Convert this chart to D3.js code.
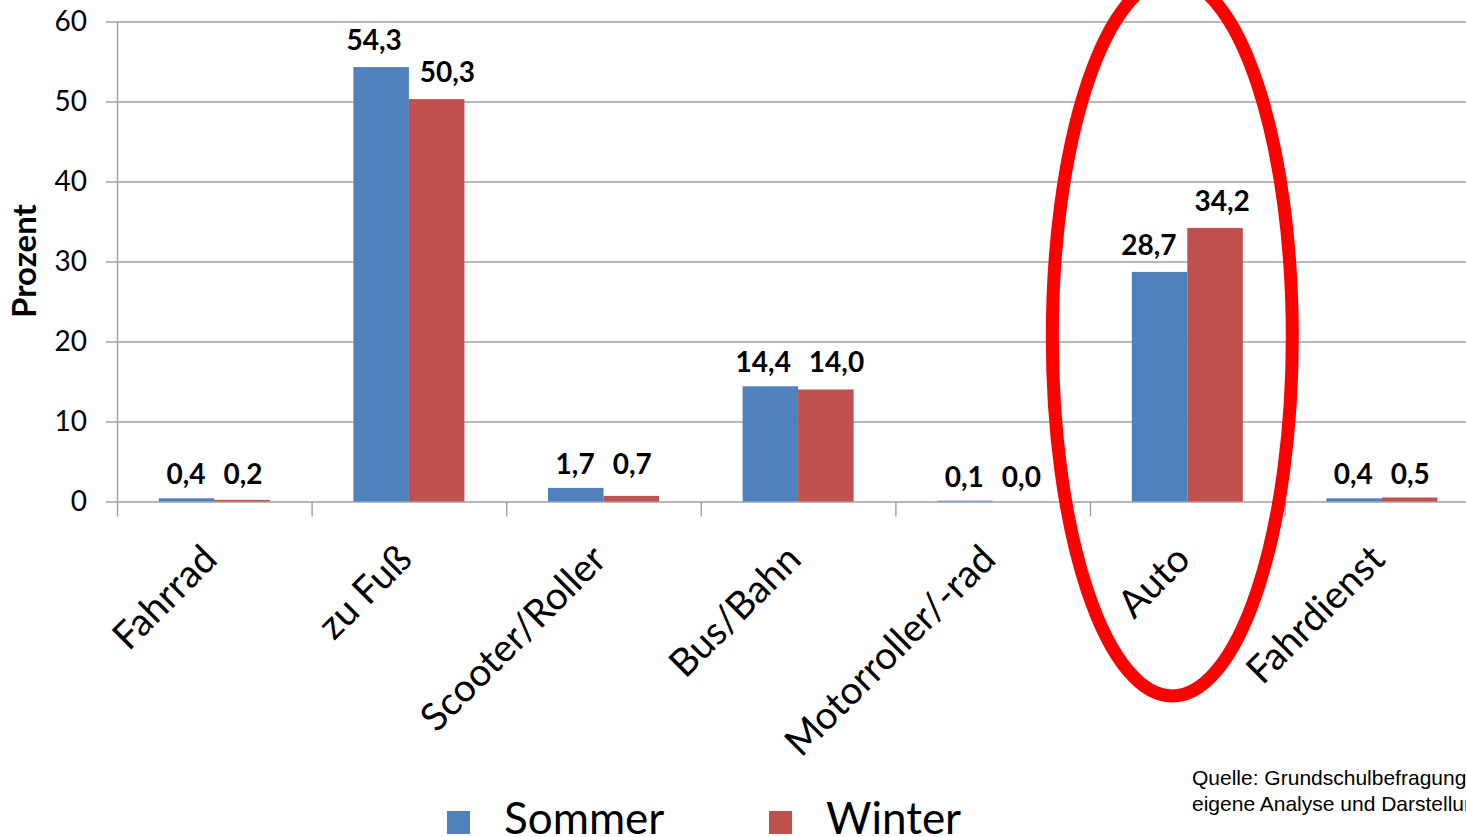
<!DOCTYPE html>
<html>
<head>
<meta charset="utf-8">
<script src="https://cdn.jsdelivr.net/npm/d3@7"></script>
<style>
  html, body { margin: 0; padding: 0; background: #fff; overflow: hidden; }
  svg { display: block; }
</style>
</head>
<body>
<svg id="chart" width="1466" height="837"></svg>
<script>
// Verkehrsmittelwahl auf dem Schulweg, Sommer vs. Winter (Prozent)
const categories = ["Fahrrad", "zu Fuß", "Scooter/Roller", "Bus/Bahn", "Motorroller/-rad", "Auto", "Fahrdienst"];
const series = ["Sommer", "Winter"];
const sommer = [0.4, 54.3, 1.7, 14.4, 0.1, 28.7, 0.4];
const winter = [0.2, 50.3, 0.7, 14.0, 0.0, 34.2, 0.5];
const yTicks = [0, 10, 20, 30, 40, 50, 60];
const highlighted = "Auto";
const sourceLines = ["Quelle: Grundschulbefragung", "eigene Analyse und Darstellung"];

const colors = { Sommer: "#4F81BD", Winter: "#C0504D" };
const values = { Sommer: sommer, Winter: winter };

const W = 1466, H = 837;
const plotLeft = 117, plotTop = 21.5, plotBottom = 501.5;
const step = 194.6;

const svg = d3.select("#chart");
const fmt = v => d3.format(".1f")(v).replace(".", ",");

const x0 = d3.scaleBand().domain(categories).range([plotLeft, plotLeft + categories.length * step]).padding(0);
const x1 = d3.scaleBand().domain(series).range([0, x0.bandwidth()]).paddingInner(0).paddingOuter(0.753);
const y = d3.scaleLinear().domain([0, 60]).range([plotBottom, plotTop]);

// horizontal gridlines
const grid = svg.append("g").attr("transform", `translate(${plotLeft},0)`)
  .call(d3.axisLeft(y).tickValues(yTicks).tickSize(-(W - plotLeft)).tickFormat(""));
grid.select(".domain").remove();
grid.selectAll("line").attr("stroke", "#a0a0a0").attr("stroke-width", 1.4);

// y axis with tick labels
const yAxis = svg.append("g").attr("transform", `translate(${plotLeft},0)`)
  .call(d3.axisLeft(y).tickValues(yTicks).tickSize(11).tickSizeOuter(0).tickPadding(19));
yAxis.select(".domain").attr("stroke", "#a0a0a0").attr("stroke-width", 1.4)
  .attr("d", `M0.5,${plotTop}V${plotBottom + 15}`);
yAxis.selectAll("line").attr("stroke", "#a0a0a0").attr("stroke-width", 1.4);
yAxis.selectAll("text").attr("font-family", "Lato").attr("font-size", 28).attr("fill", "#000");

// category separator ticks below the baseline
svg.append("g").selectAll("line")
  .data(categories.slice(1))
  .join("line")
  .attr("x1", d => x0(d) + 0.5).attr("x2", d => x0(d) + 0.5)
  .attr("y1", plotBottom).attr("y2", plotBottom + 15)
  .attr("stroke", "#a0a0a0").attr("stroke-width", 1.4);

// bars
const rows = categories.map((c, i) => ({ c, i, items: series.map(s => ({ s, v: values[s][i] })) }));
const groups = svg.append("g").selectAll("g")
  .data(rows).join("g")
  .attr("transform", d => `translate(${x0(d.c)},0)`);

groups.selectAll("rect")
  .data(d => d.items)
  .join("rect")
  .attr("x", d => x1(d.s))
  .attr("width", x1.bandwidth())
  .attr("y", d => y(d.v))
  .attr("height", d => y(0) - y(d.v))
  .attr("fill", d => colors[d.s]);

// value labels: pairs of similar height share one baseline,
// and labels that crowd each other are pushed apart
const ctx = document.createElement("canvas").getContext("2d");
ctx.font = "bold 28px Lato";
const minGap = 18;
rows.forEach(r => {
  const [a, b] = r.items;
  a.cx = x1(a.s) + x1.bandwidth() / 2;
  b.cx = x1(b.s) + x1.bandwidth() / 2;
  a.w = ctx.measureText(fmt(a.v)).width;
  b.w = ctx.measureText(fmt(b.v)).width;
  const gap = (b.cx - b.w / 2) - (a.cx + a.w / 2);
  if (gap < minGap) {
    const need = minGap - gap;
    // the label over the shorter bar moves further away
    if (a.v >= b.v) { a.cx -= need * 0.4; b.cx += need * 0.6; }
    else { a.cx -= need * 0.6; b.cx += need * 0.4; }
  }
  const ya = y(a.v), yb = y(b.v);
  if (Math.abs(ya - yb) < 10) {
    a.ty = b.ty = Math.min(ya, yb) - 14;
  } else {
    a.ty = ya - 17;
    b.ty = yb - 17;
  }
});
groups.selectAll("text.val")
  .data(d => d.items)
  .join("text")
  .attr("class", "val")
  .attr("x", d => d.cx)
  .attr("y", d => d.ty)
  .attr("text-anchor", "middle")
  .attr("font-family", "Lato").attr("font-weight", "bold").attr("font-size", 28)
  .attr("fill", "#000")
  .text(d => fmt(d.v));

// rotated category labels
svg.append("g").selectAll("text")
  .data(categories)
  .join("text")
  .attr("transform", d => `translate(${x0(d) + x0.bandwidth() / 2 + 5},${plotBottom + 60}) rotate(-45)`)
  .attr("text-anchor", "end")
  .attr("font-family", "Lato").attr("font-size", 38.5)
  .attr("fill", "#000")
  .text(d => d);

// y axis title
svg.append("text")
  .attr("transform", `translate(36,261) rotate(-90)`)
  .attr("text-anchor", "middle")
  .attr("font-family", "Lato").attr("font-weight", "bold").attr("font-size", 33)
  .attr("fill", "#000")
  .text("Prozent");

// highlight ring around the highlighted category
const hx = x0(highlighted) + x0.bandwidth() / 2 - 15;
svg.append("ellipse")
  .attr("cx", hx).attr("cy", 337)
  .attr("rx", 120).attr("ry", 359)
  .attr("fill", "none").attr("stroke", "#ff0000").attr("stroke-width", 13);

// legend
const legendX = { Sommer: 447, Winter: 769 };
const legend = svg.append("g").selectAll("g")
  .data(series).join("g")
  .attr("transform", d => `translate(${legendX[d]},811)`);
legend.append("rect").attr("width", 23).attr("height", 23).attr("fill", d => colors[d]);
legend.append("text")
  .attr("x", 57).attr("y", 23)
  .attr("font-family", "Lato").attr("font-size", 44)
  .attr("fill", "#000")
  .text(d => d);

// source note
svg.append("g").selectAll("text")
  .data(sourceLines).join("text")
  .attr("x", 1192).attr("y", (d, i) => 785 + i * 26)
  .attr("font-family", "Liberation Sans, Arial, sans-serif").attr("font-size", 21)
  .attr("fill", "#000")
  .text(d => d);
</script>
</body>
</html>
